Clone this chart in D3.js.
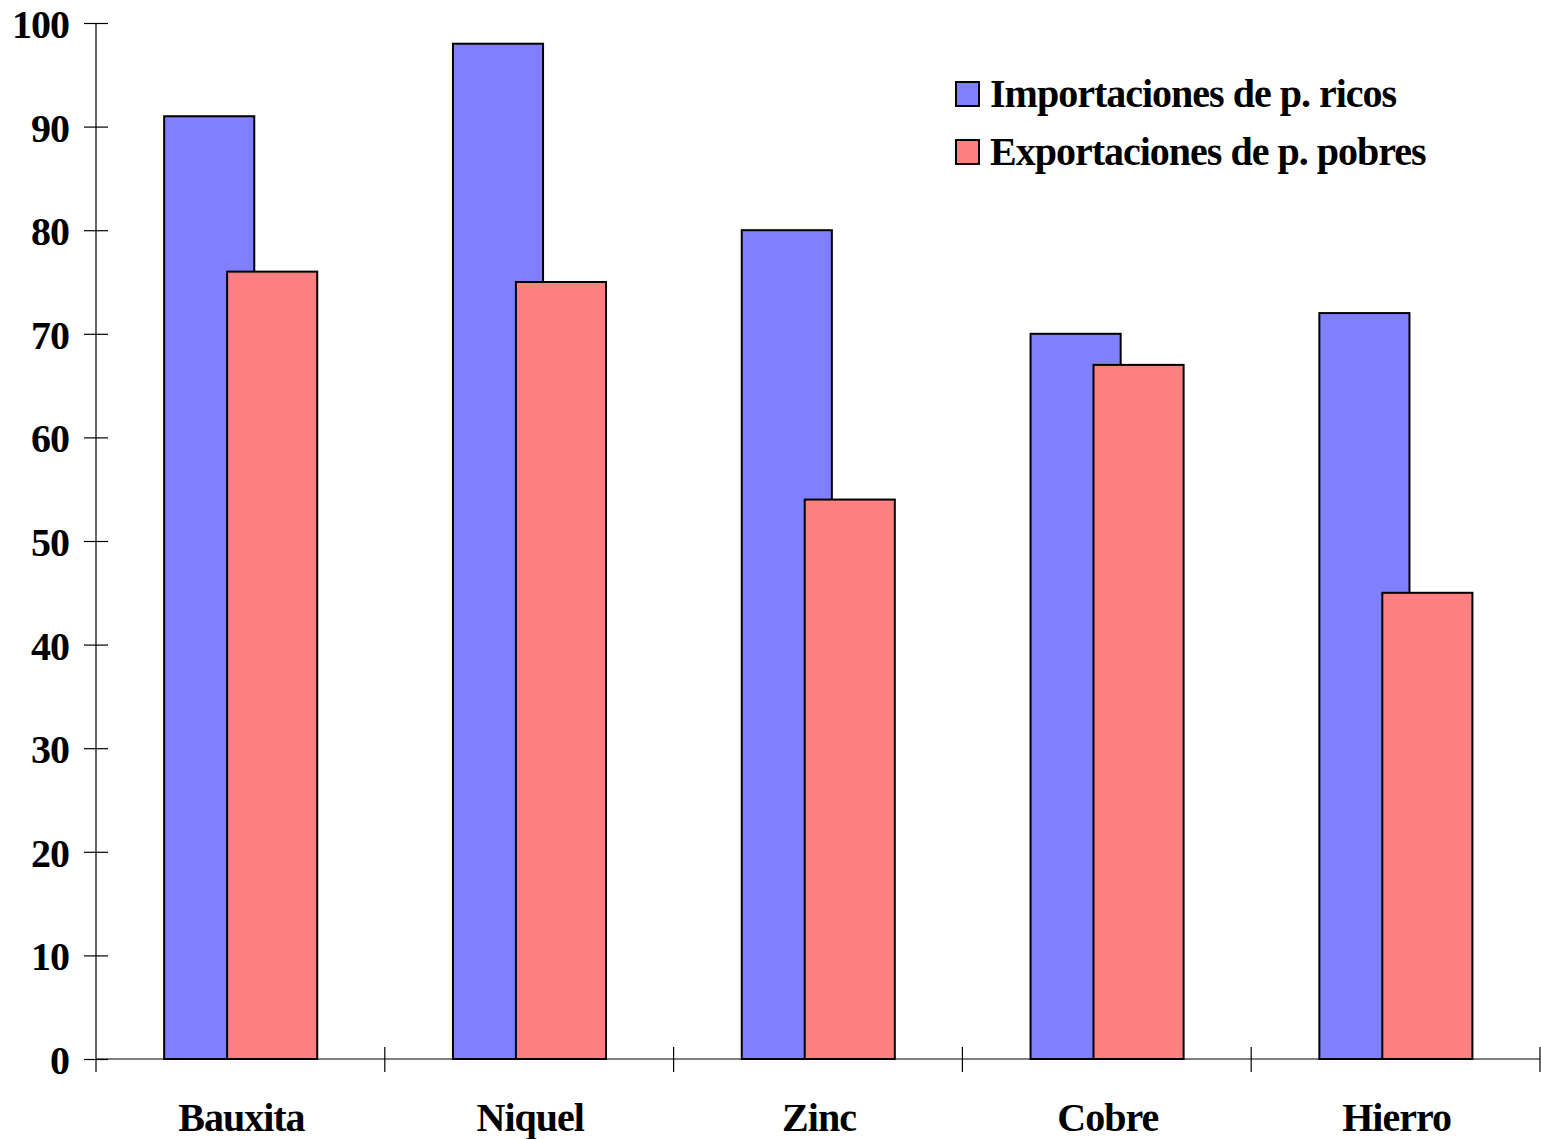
<!DOCTYPE html>
<html>
<head>
<meta charset="utf-8">
<script src="https://cdn.jsdelivr.net/npm/d3@7"></script>
<style>
  html, body { margin: 0; padding: 0; background: #fff; }
  svg text { font-family: "Liberation Serif", "Times New Roman", serif; font-weight: bold; fill: #000; }
</style>
</head>
<body>
<svg id="chart" width="1541" height="1139"></svg>
<script>
// Mineral consumption: share imported by rich countries vs exported by poor countries (%)
const categories = ["Bauxita", "Niquel", "Zinc", "Cobre", "Hierro"];
const importaciones = [91, 98, 80, 70, 72];
const exportaciones = [76, 75, 54, 67, 45];
const seriesNames = ["Importaciones de p. ricos", "Exportaciones de p. pobres"];
const seriesColors = ["#8080FF", "#FF8080"];
const yTicks = [0, 10, 20, 30, 40, 50, 60, 70, 80, 90, 100];

const svg = d3.select("#chart");
const margin = { left: 96, right: 1540, top: 23, bottom: 1059 };

const x = d3.scaleBand().domain(categories).range([margin.left, margin.right]).padding(0);
const y = d3.scaleLinear().domain([0, 100]).range([margin.bottom, margin.top]);

// Bars: the second series overlaps the first within each category
const bw = x.bandwidth();
const barW = bw * 0.312;
const offsets = [bw * 0.236, bw * 0.454];
const series = [importaciones, exportaciones];

series.forEach((vals, si) => {
  svg.append("g").selectAll("rect")
    .data(categories.map((c, i) => ({ c, v: vals[i] })))
    .join("rect")
    .attr("x", d => x(d.c) + offsets[si])
    .attr("y", d => y(d.v))
    .attr("width", barW)
    .attr("height", d => y(0) - y(d.v))
    .attr("fill", seriesColors[si])
    .attr("stroke", "#000")
    .attr("stroke-width", 2);
});

// Y axis with ticks crossing the line
const yAxis = svg.append("g").attr("transform", `translate(${margin.left},0)`)
  .call(d3.axisLeft(y).tickValues(yTicks).tickSize(0).tickFormat(d3.format("d")));
yAxis.select(".domain").remove();
yAxis.selectAll(".tick text")
  .attr("x", -27).attr("dy", "0.36em")
  .style("font-size", "40px").style("letter-spacing", "-1px");
yAxis.selectAll(".tick").append("line")
  .attr("x1", -12).attr("x2", 12).attr("stroke", "#000").attr("stroke-width", 1.2);
svg.append("line")
  .attr("x1", margin.left).attr("x2", margin.left)
  .attr("y1", margin.top).attr("y2", y(0) + 13)
  .attr("stroke", "#000").attr("stroke-width", 1.2);

// X axis: baseline plus boundary ticks between categories
svg.append("line")
  .attr("x1", margin.left).attr("x2", margin.right)
  .attr("y1", y(0)).attr("y2", y(0))
  .attr("stroke", "#000").attr("stroke-width", 1.2);
const bounds = categories.map(c => x(c)).concat([x(categories[categories.length - 1]) + bw]);
svg.append("g").selectAll("line")
  .data(bounds.slice(1))
  .join("line")
  .attr("x1", d => d).attr("x2", d => d)
  .attr("y1", y(0) - 12).attr("y2", y(0) + 13)
  .attr("stroke", "#000").attr("stroke-width", 1.2);

svg.append("g").selectAll("text")
  .data(categories)
  .join("text")
  .attr("x", d => x(d) + bw / 2 + 1)
  .attr("y", 1131)
  .attr("text-anchor", "middle")
  .style("font-size", "40px").style("letter-spacing", "-1px")
  .text(d => d);

// Legend
const legend = svg.append("g");
seriesNames.forEach((name, i) => {
  const ly = 82 + i * 58;
  legend.append("rect")
    .attr("x", 956).attr("y", ly).attr("width", 23).attr("height", 24)
    .attr("fill", seriesColors[i]).attr("stroke", "#000").attr("stroke-width", 2);
  legend.append("text")
    .attr("x", 990).attr("y", ly + 25)
    .style("font-size", "40px").style("letter-spacing", "-1px")
    .text(name);
});
</script>
</body>
</html>
